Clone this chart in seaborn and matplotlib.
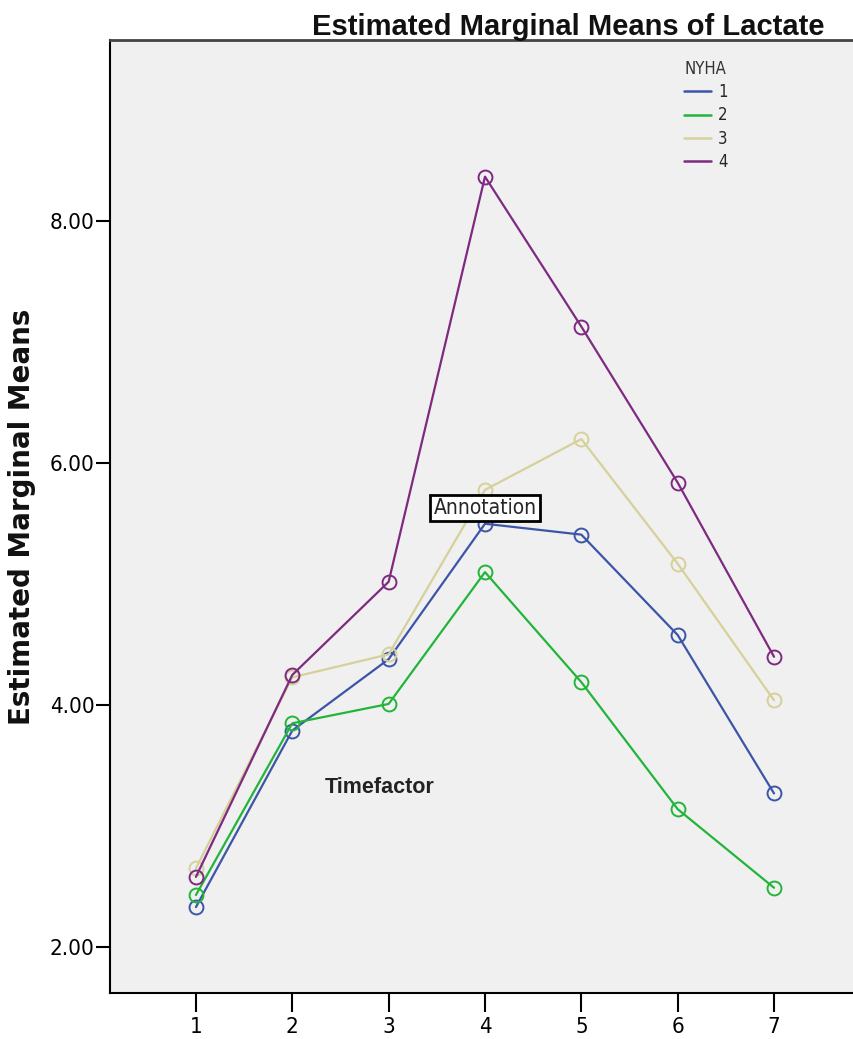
import pandas as pd
import seaborn as sns
import matplotlib.pyplot as plt
from matplotlib.lines import Line2D

# Estimated marginal means of lactate per NYHA class over time
timepoints = [1, 2, 3, 4, 5, 6, 7]
nyha_1 = [2.33, 3.79, 4.38, 5.50, 5.41, 4.58, 3.27]
nyha_2 = [2.43, 3.85, 4.01, 5.10, 4.19, 3.14, 2.49]
nyha_3 = [2.65, 4.23, 4.42, 5.78, 6.20, 5.17, 4.04]
nyha_4 = [2.58, 4.25, 5.02, 8.37, 7.13, 5.84, 4.40]
groups = ["1", "2", "3", "4"]
y_ticks = [2.0, 4.0, 6.0, 8.0]

colors = {"1": "#3c55a8", "2": "#22b53a", "3": "#d6d09a", "4": "#7d2a80"}

df = pd.DataFrame({
    "Timefactor": timepoints * 4,
    "mean": nyha_1 + nyha_2 + nyha_3 + nyha_4,
    "NYHA": [g for g in groups for _ in timepoints],
})

sns.set_style("white")
plt.rcParams["font.family"] = ["DejaVu Sans"]
narrow = dict(family="DejaVu Sans", stretch="condensed")
bold = dict(family=["Liberation Sans", "DejaVu Sans"], fontweight="bold")

fig = plt.figure(figsize=(8.54, 10.39), dpi=100)
ax = fig.add_axes([0.1288, 0.0443, 0.8712, 0.9172])
ax.set_facecolor("#f0f0f0")

sns.lineplot(data=df, x="Timefactor", y="mean", hue="NYHA", palette=colors,
             marker="o", markersize=10, markerfacecolor="none",
             linewidth=1.6, legend=False, ax=ax)
for ln in ax.lines:
    ln.set_markeredgecolor(ln.get_color())
    ln.set_markeredgewidth(1.4)

ax.set_xlim(0.108, 7.83)
ax.set_ylim(1.62, 9.50)
ax.set_xticks(timepoints)
ax.set_xticklabels([str(t) for t in timepoints], fontsize=16, **narrow)
ax.set_yticks(y_ticks)
ax.set_yticklabels([f"{v:.2f}" for v in y_ticks], fontsize=16, **narrow)
ax.tick_params(axis="x", bottom=True, direction="out", length=14, width=1.5, pad=3, colors="black")
ax.tick_params(axis="y", left=True, direction="out", length=10, width=1.5, pad=1, colors="black")
ax.set_xlabel("")
ax.set_ylabel("Estimated Marginal Means", fontsize=20, labelpad=10,
              family="DejaVu Sans", fontweight="bold", color="#111111")

for side in ["left", "bottom"]:
    ax.spines[side].set_color("black")
    ax.spines[side].set_linewidth(1.5)
ax.spines["top"].set_color("#444444")
ax.spines["top"].set_linewidth(2)
ax.spines["right"].set_visible(False)

fig.text(0.665, 0.974, "Estimated Marginal Means of Lactate", ha="center", va="center",
         fontsize=21, color="#111111", **bold)

ax.text(2.91, 3.32, "Timefactor", ha="center", va="center", fontsize=15.5,
        color="#222222", **bold)
ax.text(4.0, 5.63, "Annotation", ha="center", va="center", fontsize=15,
        bbox=dict(boxstyle="square,pad=0.15", facecolor="white", edgecolor="black", linewidth=2),
        **narrow)

handles = [Line2D([0], [0], color=colors[g], linewidth=1.8) for g in groups]
leg = ax.legend(handles, groups, title="NYHA", loc="upper left",
                bbox_to_anchor=(0.752, 0.995), frameon=False,
                prop=dict(family="DejaVu Sans", stretch="condensed", size=12),
                title_fontproperties=dict(family="DejaVu Sans", stretch="condensed", size=12),
                handlelength=1.6, handletextpad=0.4, labelspacing=0.32)
leg._legend_box.align = "left"
leg.get_title().set_color("#333333")

fig.savefig("out.png", dpi=100)
